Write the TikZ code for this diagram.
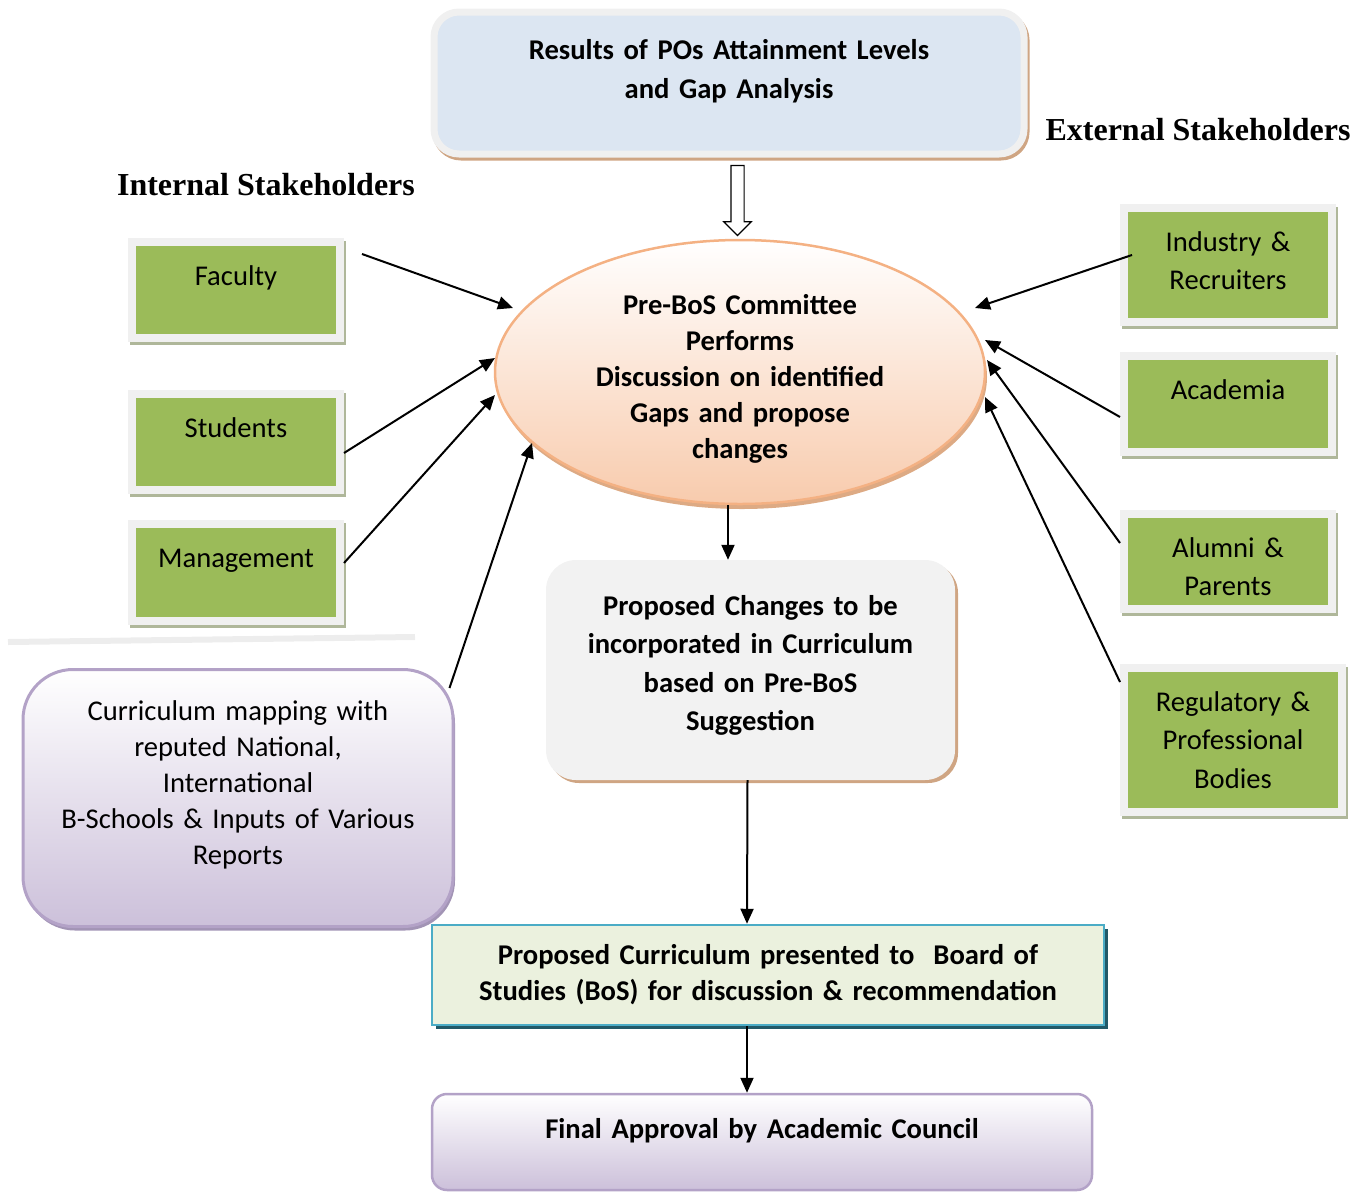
\documentclass[tikz,border=0pt]{standalone}
\usepackage{fontspec}
\setmainfont{Carlito}
\newfontfamily\headfont{Liberation Serif}
\usetikzlibrary{calc,arrows.meta,shapes.geometric,shapes.arrows}
\definecolor{leaf}{HTML}{9BBB59}
\definecolor{leafshadow}{HTML}{AFB79A}
\definecolor{frame}{HTML}{F0F0F0}
\definecolor{sky}{HTML}{DCE6F2}
\definecolor{tan}{HTML}{CFA583}
\definecolor{peach}{HTML}{F8CBAD}
\definecolor{peachline}{HTML}{F4B183}
\definecolor{peachshadow}{HTML}{DDAA84}
\definecolor{paper}{HTML}{F2F2F2}
\definecolor{lilac}{HTML}{CCC0DA}
\definecolor{lilacline}{HTML}{B3A2C7}
\definecolor{lilacshadow}{HTML}{A294B5}
\definecolor{mint}{HTML}{EBF1DE}
\definecolor{sea}{HTML}{4BACC6}
\definecolor{deepsea}{HTML}{215968}
\definecolor{rule}{HTML}{EDEDED}
\begin{document}
\begin{tikzpicture}[x=1pt,y=1pt,
	bold/.style={font=\bfseries\fontsize{28.6}{#1}\selectfont},
	plain/.style={font=\fontsize{28.6}{#1}\selectfont},
	greenbox/.style={rectangle,fill=leaf,draw=frame,line width=8pt,inner sep=0pt,
		text width=200pt,align=center,text height=43pt,plain=38.5,
		preaction={draw=leafshadow,line width=8pt,transform canvas={shift={(2pt,-3pt)}}}},
	arr/.style={line width=2pt,-{Triangle[length=15pt,width=13pt]}},
	hollow/.style={single arrow,draw,fill=white,line width=1.2pt,minimum height=70pt,
		minimum width=26pt,single arrow head extend=7pt,inner sep=6pt,shape border rotate=270}]
	\useasboundingbox (0,0) rectangle (1355,-1192);
	\node[rectangle,rounded corners=25pt,fill=sky,draw=frame,line width=7pt,inner sep=0pt,
		minimum width=590pt,text width=560pt,align=center,text height=47pt,text depth=95pt,bold=39,
		preaction={draw=tan,line width=7pt,transform canvas={shift={(2pt,-3pt)}}}]
		(res) at (729,-83) {Results of POs Attainment Levels\\and Gap Analysis};
	\node[ellipse,minimum width=490pt,minimum height=264pt,inner sep=0pt,draw=peachline,line width=2.5pt,
		top color=white,bottom color=peach,text width=300pt,align=center,bold=36,text height=30pt,text depth=146pt,
		preaction={fill=peachshadow,transform canvas={shift={(2pt,-5pt)}}}]
		(pb) at (740,-372) {Pre-BoS Committee\\Performs\\Discussion on identified\\Gaps and propose\\changes};
	\node[hollow] (hol) at ($(res.south)!0.5!(pb.north)+(3,1)$) {};
	\node[font=\headfont\bfseries\fontsize{32}{38}\selectfont] (int) at (266,-185) {Internal Stakeholders};
	\node[font=\headfont\bfseries\fontsize{32}{38}\selectfont] (ext) at (1198,-130) {External Stakeholders};
	% stakeholder boxes
	\foreach \n/\x/\y/\w/\d/\t in {fac/236/290/208/53/Faculty,
		stu/236/442/208/53/Students,
		man/236/572.5/208/54/Management,
		ind/1228/265/208/71/{Industry \&\\Recruiters},
		aca/1228/404/208/53/Academia,
		alu/1228/561.5/208/52/{Alumni \&\\Parents},
		reg/1233/740/218/101/{Regulatory \&\\Professional\\Bodies}}
	\node[greenbox,minimum width=\w pt,text depth=\d pt] (\n) at (\x,-\y) {\t};
	\draw[rule,line width=6pt] (8,-642)--(415,-637);
	\node[rectangle,rounded corners=50pt,top color=white,bottom color=lilac,draw=lilacline,line width=3pt,
		inner sep=0pt,minimum width=430pt,text width=400pt,align=center,text height=51pt,text depth=206pt,plain=36,
		preaction={fill=lilacshadow,transform canvas={shift={(2pt,-4pt)}}}]
		(cur) at (238,-798) {Curriculum mapping with\\reputed National,\\International\\B-Schools \& Inputs of Various\\Reports};
	\node[rectangle,rounded corners=30pt,fill=paper,inner sep=0pt,minimum width=409pt,text width=380pt,
		align=center,text height=55pt,text depth=165pt,bold=38.5,
		preaction={fill=tan,transform canvas={shift={(3pt,-3pt)}}}]
		(pro) at (750.5,-670) {Proposed Changes to be\\incorporated in Curriculum\\based on Pre-BoS\\Suggestion};
	\node[rectangle,fill=mint,draw=sea,line width=2.5pt,inner sep=0pt,minimum width=672pt,minimum height=100pt,
		text width=640pt,align=center,bold=36,
		preaction={fill=deepsea,transform canvas={shift={(4pt,-4pt)}}}]
		(bos) at (768,-975) {Proposed Curriculum presented to\ \ Board of\\Studies (BoS) for discussion \& recommendation};
	\node[rectangle,rounded corners=15pt,top color=white,bottom color=lilac,draw=lilacline,line width=2.5pt,
		inner sep=0pt,minimum width=660pt,text width=620pt,align=center,text height=44pt,text depth=52pt,bold=36]
		(fin) at (762,-1142) {Final Approval by Academic Council};
	% arrows into the committee
	\foreach \a/\dx/\dy/\ex/\ey in {fac.north east/18/-16/-227/64, stu.east/0/-11/-245/14,
		man.east/0/9.5/-245/-23, cur.north east/-5/-20/-208/-71}
	\draw[arr] ($(\a)+(\dx,\dy)$)--($(pb.center)+(\ex,\ey)$);
	\foreach \n/\dx/\dy/\ex/\ey in {ind/12/10/235/64, aca/0/-13/245/32, alu/0/18.5/247/12, reg/0/58/245/-25}
	\draw[arr] ($(\n.west)+(\dx,\dy)$)--($(pb.center)+(\ex,\ey)$);
	\draw[arr] ([xshift=-12pt]pb.south)--([xshift=-22.5pt]pro.north);
	\draw[arr] ([xshift=-3pt]pro.south)--([xshift=-21pt]bos.north);
	\draw[arr] ([xshift=-21pt]bos.south)--([xshift=-15pt]fin.north);
\end{tikzpicture}
\end{document}
